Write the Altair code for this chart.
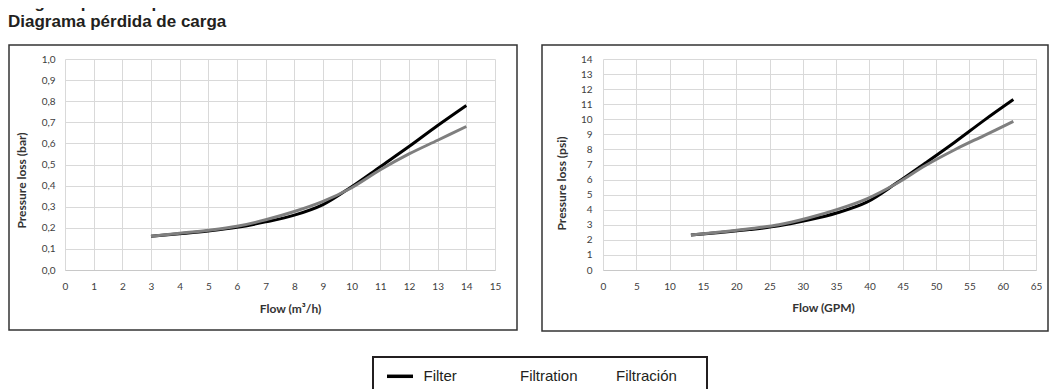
import altair as alt
import pandas as pd

# ---- data ----
flow_m3h = [3, 4, 5, 6, 7, 8, 9, 10, 11, 12, 13, 14]
filter_bar = [0.16, 0.172, 0.185, 0.202, 0.228, 0.26, 0.31, 0.395, 0.49, 0.585, 0.685, 0.78]
backwash_bar = [0.16, 0.174, 0.188, 0.207, 0.238, 0.277, 0.325, 0.39, 0.475, 0.55, 0.615, 0.68]

flow_gpm = [13.2, 17.6, 22.0, 26.4, 30.8, 35.2, 39.6, 44.0, 48.4, 52.8, 57.2, 61.6]
filter_psi = [2.32, 2.49, 2.68, 2.93, 3.31, 3.8, 4.5, 5.75, 7.1, 8.48, 9.93, 11.31]
backwash_psi = [2.32, 2.52, 2.73, 3.0, 3.45, 4.02, 4.72, 5.72, 6.93, 7.98, 8.92, 9.86]

# axis ranges and number of tick intervals (step 1, 0.1, 5 and 1)
x_range_bar, x_steps_bar = [0, 15], 15
y_range_bar, y_steps_bar = [0, 1], 10
x_range_gpm, x_steps_gpm = [0, 65], 13
y_range_psi, y_steps_psi = [0, 14], 14

title_lines = ["Diagram perte de pression", "Diagrama pérdida de carga"]
legend_texts = ["Filter", "Filtration", "Filtración"]
filter_color = "#000000"
backwash_color = "#7f7f7f"

LABEL_FONT = "Lato"
TEXT_FONT = "Liberation Sans"
LABEL_COLOR = "#404040"
GRID_COLOR = "#d9d9d9"

# plot-area origin of the left panel inside the SVG (page minus 8px margin)
OX, OY = 57, 51


def panel(xv, yf, yb, xdom, xn, ydom, yn, w, h, x_title, y_title, y_label_expr,
          x_title_x, x_title_y, y_title_x, y_title_y, y_pad, extra=()):
    xs = alt.Scale(domain=xdom, nice=False, zero=False)
    ys = alt.Scale(domain=ydom, nice=False, zero=False)
    x_axis = alt.Axis(
        tickCount=xn, labelOverlap=False,
        title=x_title, grid=True, gridColor=GRID_COLOR,
        ticks=False, domain=True, domainColor="#c8c8c8", labelPadding=11,
        labelFont=LABEL_FONT, labelFontSize=10, labelColor=LABEL_COLOR,
        titleFont=LABEL_FONT, titleFontSize=12, titleFontWeight="bold",
        titleColor="#333333", titleX=x_title_x, titleY=x_title_y,
        titleBaseline="middle", titleAlign="center", labelFlush=False)
    y_axis = alt.Axis(
        tickCount=yn, labelOverlap=False,
        title=y_title, grid=True, gridColor=GRID_COLOR,
        ticks=False, domain=False, labelPadding=y_pad, labelExpr=y_label_expr,
        labelFont=LABEL_FONT, labelFontSize=10, labelColor=LABEL_COLOR,
        titleFont=LABEL_FONT, titleFontSize=12, titleFontWeight="bold",
        titleColor="#333333", titleX=y_title_x, titleY=y_title_y,
        titleBaseline="middle", titleAlign="center", titleAngle=270,
        labelFlush=False)

    line_f = alt.Chart(pd.DataFrame({"flow": xv, "loss": yf})).mark_line(
        color=filter_color, strokeWidth=3, interpolate="catmull-rom").encode(
        x=alt.X("flow:Q", scale=xs, axis=x_axis),
        y=alt.Y("loss:Q", scale=ys, axis=y_axis))
    line_b = alt.Chart(pd.DataFrame({"flow": xv, "loss": yb})).mark_line(
        color=backwash_color, strokeWidth=3, interpolate="catmull-rom").encode(
        x=alt.X("flow:Q", scale=xs, axis=x_axis),
        y=alt.Y("loss:Q", scale=ys, axis=y_axis))
    return alt.layer(line_f, line_b, *extra).properties(width=w, height=h)


one = pd.DataFrame({"a": [0]})


def box(x1, x2, y1, y2, width, color):
    return alt.Chart(one).mark_rect(
        fillOpacity=0, stroke=color, strokeWidth=width).encode(
        x=alt.value(x1 - OX), x2=alt.value(x2 - OX),
        y=alt.value(y1 - OY), y2=alt.value(y2 - OY))


def label(txt, x, y, size, weight="normal", color="#231f20"):
    return alt.Chart(one).mark_text(
        text=txt, align="left", baseline="alphabetic", font=TEXT_FONT,
        fontSize=size, fontWeight=weight, color=color).encode(
        x=alt.value(x - OX), y=alt.value(y - OY))


# decorations, given in SVG pixels and shifted to the left panel's origin
deco = [
    box(1, 509, 37, 322, 1.5, "#333333"),
    box(534, 1040, 37, 323, 1.5, "#333333"),
    label(title_lines[0], 0, -0.5, 17, "bold"),
    label(title_lines[1], 0, 19, 17, "bold"),
    box(365, 699, 349, 392, 2, "#231f20"),
    alt.Chart(one).mark_rule(color="#000000", strokeWidth=3.5).encode(
        x=alt.value(379 - OX), x2=alt.value(405 - OX), y=alt.value(368.3 - OY)),
    label(legend_texts[0], 415.5, 373, 15),
    label(legend_texts[1], 512, 373, 15),
    label(legend_texts[2], 608, 373, 15),
]

left = panel(
    flow_m3h, filter_bar, backwash_bar, x_range_bar, x_steps_bar,
    y_range_bar, y_steps_bar, 430, 211,
    "Flow (m³/h)", "Pressure loss (bar)",
    "replace(format(datum.value, '.1f'), '.', ',')",
    225, 38, -43.6, 121, 10, extra=deco)

right = panel(
    flow_gpm, filter_psi, backwash_psi, x_range_gpm, x_steps_gpm,
    y_range_psi, y_steps_psi, 433, 211,
    "Flow (GPM)", "Pressure loss (psi)",
    "format(datum.value, 'd')",
    220, 37.3, -41.3, 124, 11)

chart = alt.hconcat(left, right, spacing=108, bounds="flush").properties(
    padding={"left": OX, "top": OY, "right": 1041 - OX, "bottom": 373 - OY},
    autosize=alt.AutoSizeParams(type="none")).configure_view(strokeWidth=0)

chart.save("out.html", embed_options={"renderer": "svg", "actions": False})
